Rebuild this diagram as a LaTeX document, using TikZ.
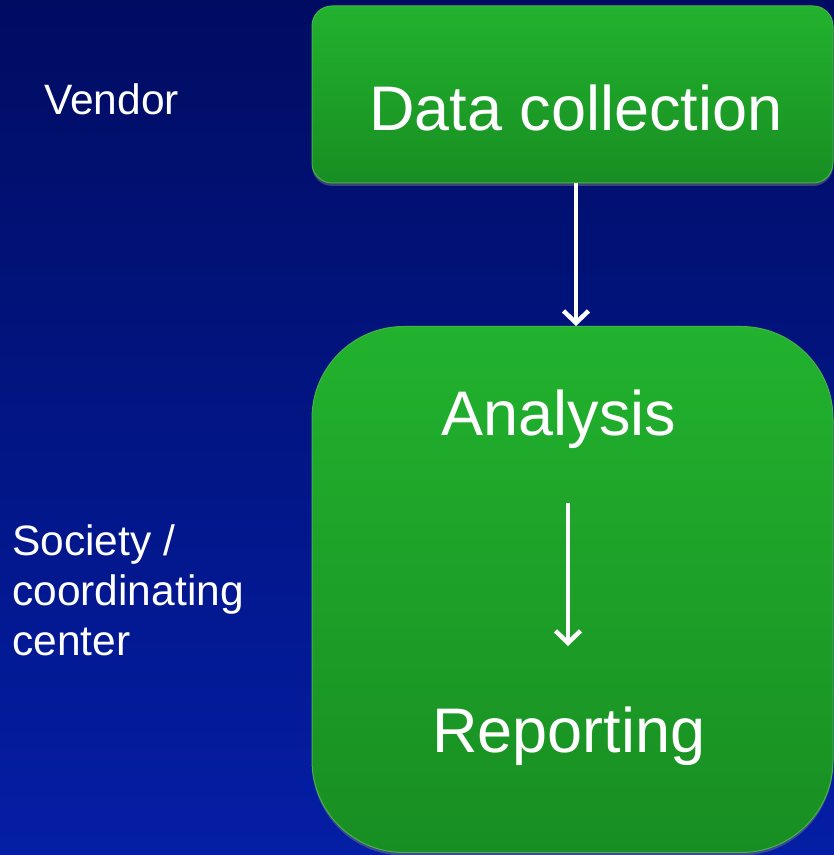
\documentclass[tikz,border=0pt]{standalone}
\usepackage{fontspec}
\setmainfont{Liberation Sans}
\usetikzlibrary{arrows.meta,shadows}
\definecolor{bgtop}{RGB}{0,12,98}
\definecolor{bgbot}{RGB}{4,30,165}
\definecolor{gtop}{RGB}{34,178,46}
\definecolor{gbot}{RGB}{24,142,34}
\definecolor{gborder}{RGB}{72,178,72}
\tikzset{
  greenbox/.style={draw=gborder, line width=1pt, top color=gtop, bottom color=gbot,
    inner sep=0pt, drop shadow={opacity=0.45, shadow xshift=0pt, shadow yshift=-3pt}},
  bigtext/.style={text=white, font=\fontsize{63}{76}\selectfont, inner sep=0pt, anchor=base},
  sidetext/.style={text=white, font=\fontsize{42.5}{50}\selectfont, inner sep=0pt, align=left},
  arr/.style={draw=white, line width=3.5pt, -{Straight Barb[length=12pt,width=25pt,line width=4.5pt]}}
}
\begin{document}
\begin{tikzpicture}[x=1pt,y=1pt]
\useasboundingbox (0,0) rectangle (834,855);
\fill[top color=bgtop, bottom color=bgbot] (0,0) rectangle (834,855);
% boxes
\node[greenbox, rounded corners=20pt, minimum width=521pt, minimum height=177pt] (dc) at (572.5,760.5) {};
\node[greenbox, rounded corners=92pt, minimum width=521pt, minimum height=526pt] (big) at (572.5,265.5) {};
% texts
\node[bigtext] (dctext) at (576,724) {Data collection};
\node[bigtext] (ana) at (559,419) {Analysis};
\node[bigtext] (rep) at (569,102) {Reporting};
\node[sidetext, anchor=base west] (vendor) at (44,740) {Vendor};
\node[sidetext, anchor=west] (society) at (12,265) {Society /\\coordinating\\center};
% arrows
\draw[arr] ([xshift=3.5pt]dc.south) -- ([xshift=3.5pt]big.north);
\coordinate (a1) at (568,352);
\coordinate (a2) at (568,209);
\draw[arr] (a1) -- (a2);
\end{tikzpicture}
\end{document}
